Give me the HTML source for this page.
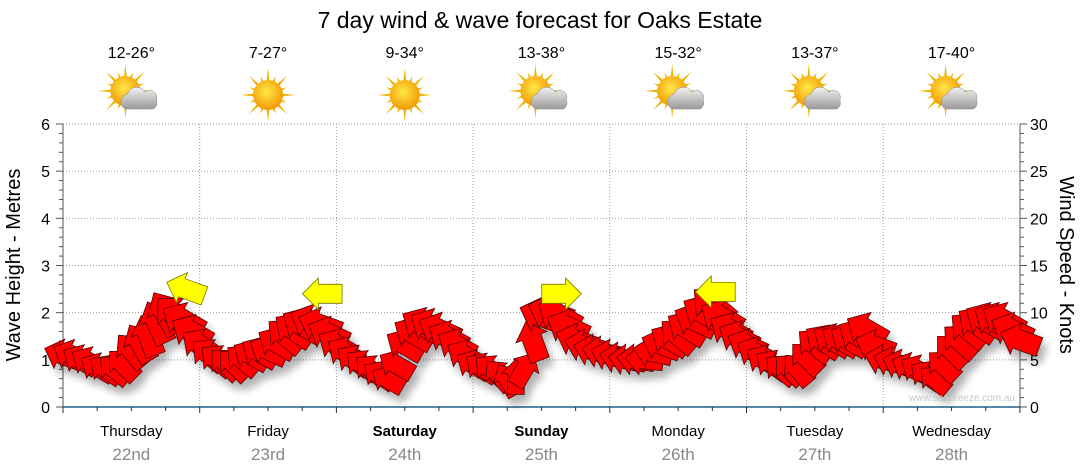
<!DOCTYPE html>
<html><head><meta charset="utf-8"><style>
body{margin:0;background:#fff;font-family:"Liberation Sans","DejaVu Sans",sans-serif}
svg{display:block}
</style></head><body>
<svg id="c" width="1080" height="475" viewBox="0 0 1080 475">
<defs>
<radialGradient id="sun" cx="45%" cy="40%" r="60%"><stop offset="0" stop-color="#ffe84a"/><stop offset="1" stop-color="#f29a00"/></radialGradient>
<linearGradient id="cloud" x1="0" y1="0" x2="0" y2="1"><stop offset="0" stop-color="#f2f2f2"/><stop offset="1" stop-color="#9a9a9a"/></linearGradient>
<filter id="sh" x="-20%" y="-20%" width="140%" height="160%"><feGaussianBlur stdDeviation="4"/></filter>
</defs>
<text x="540" y="28" text-anchor="middle" font-size="23" fill="#000">7 day wind &amp; wave forecast for Oaks Estate</text>
<g id="grid"></g><g id="icons"></g><g id="axes"></g><g id="shadow" filter="url(#sh)" opacity="0.3"></g><g id="marks"></g>
<text x="1015" y="401" text-anchor="end" font-size="10" fill="#c8c8c8">www.seabreeze.com.au</text>
<text transform="translate(20,265) rotate(-90)" text-anchor="middle" font-size="20">Wave Height - Metres</text>
<text transform="translate(1060,265) rotate(90)" text-anchor="middle" font-size="20">Wind Speed - Knots</text>
</svg>
<script>
const days=["Thursday","Friday","Saturday","Sunday","Monday","Tuesday","Wednesday"];
const dates=["22nd","23rd","24th","25th","26th","27th","28th"];
const temps=["12-26°","7-27°","9-34°","13-38°","15-32°","13-37°","17-40°"];
const cloudy=[1,0,0,1,1,1,1];
const waveTicks=[0,1,2,3,4,5,6];
const windTicks=[0,5,10,15,20,25,30];
// wind every 1.5 hours, knots
const windSpeed=[5.5,5.5,5,4.8,4.2,4,4,4.5,6,6.8,7.6,9,10,9.8,9.2,8,
6.6,5.6,5,4.6,4.5,5,5.5,5.8,6,6.8,7.6,8.2,8.7,9,8.7,7.8,
6.6,5.8,5,4.5,4,3.4,2.9,4.5,6.6,7.8,8.7,8.6,8.2,7.4,6.6,5.5,
4.5,4.2,4,3.4,2.9,3.2,4,7,9.7,10,9.7,8.5,7.1,6.5,6,5.8,
5.5,5.2,5,5,5,5.8,6.6,7.1,7.6,8.4,9.2,10,10.8,9.5,8.2,7.4,
6.6,5.8,5,4.5,4,4,4,5.2,6.6,7,7.1,7.1,7.1,7.6,8.2,6.5,
5,4.8,4.5,4.2,4,3.4,2.9,4.4,6,7,8.2,8.8,9.2,9.2,9.2,8.2,7.1];
const windDir=[-160,-155,-150,-150,-150,-145,-140,-135,-130,-120,-110,-115,-120,-135,-150,-150,
-145,-140,-140,-135,-135,-140,-150,-150,-155,-150,-140,-145,-150,-155,-160,-155,
-150,-148,-145,-142,-140,-145,-150,-150,-150,-150,-150,-152,-155,-152,-150,-150,
-150,-145,-140,-130,-120,-90,-60,-110,-160,-160,-150,-155,-160,-165,-165,-168,
-165,-168,-170,-172,-175,-168,-160,-150,-140,-148,-155,-150,-140,-150,-150,-152,
-155,-152,-150,-145,-140,-135,-130,-135,-140,-145,-150,-150,-150,-150,-150,-160,
-165,-162,-160,-155,-150,-145,-140,-137,-135,-138,-140,-145,-150,-150,-150,-155,-160];
const gustIdx=[14,30,58,76];
const gustSpeed=[12.5,12,12,12.2];
const gustDir=[-160,180,0,180];
const X0=63,X1=1020,DW=136.7,Y0=407,Y6=124;
const xT=i=>X0+i*DW/16;
const yW=m=>Y0-(Y0-Y6)*m/6;
const yK=k=>Y0-(Y0-Y6)*k/30;
const NS="http://www.w3.org/2000/svg";
function mk(p,t,a){const e=document.createElementNS(NS,t);for(const k in a)e.setAttribute(k,a[k]);p.appendChild(e);return e;}
const grid=document.getElementById('grid'),axes=document.getElementById('axes'),icons=document.getElementById('icons');
waveTicks.forEach(v=>{if(v>0){const l=mk(grid,'line',{x1:X0,x2:X1,y1:yW(v),y2:yW(v),stroke:'#999','stroke-dasharray':'1,2'});
}
const t=mk(axes,'text',{x:50,y:yW(v)+6,'text-anchor':'end','font-size':16});t.textContent=v;
});
windTicks.forEach(v=>{const t=mk(axes,'text',{x:1030,y:yK(v)+6,'font-size':16});t.textContent=v;
});
for(let i=0;i<=30;i++){const y=yW(i/5);const w=i%5==0?7:4;mk(axes,'line',{x1:X0-w,x2:X0,y1:y,y2:y,stroke:'#555'});mk(axes,'line',{x1:X1,x2:X1+w,y1:y,y2:y,stroke:'#555'});}
mk(axes,'line',{x1:X0,x2:X0,y1:Y6,y2:Y0,stroke:'#555'});mk(axes,'line',{x1:X1,x2:X1,y1:Y6,y2:Y0,stroke:'#555'});
mk(axes,'line',{x1:X0,x2:X1,y1:Y0,y2:Y0,stroke:'#1f5f8b','stroke-width':1.5});
for(let i=0;i<=28;i++){const x=X0+i*DW/4;mk(axes,'line',{x1:x,x2:x,y1:Y0,y2:Y0+(i%4==0?6:4),stroke:'#333'});}
days.forEach((d,i)=>{const cx=X0+(i+0.5)*DW;
if(i>0){const l=mk(grid,'line',{x1:X0+i*DW,x2:X0+i*DW,y1:Y6,y2:Y0,stroke:'#999','stroke-dasharray':'1,2'});}
const t=mk(axes,'text',{x:cx,y:436,'text-anchor':'middle','font-size':15,'font-weight':(i==2||i==3)?'bold':'normal'});t.textContent=d;

const t2=mk(axes,'text',{x:cx,y:460,'text-anchor':'middle','font-size':17,fill:'#888'});t2.textContent=dates[i];

const t3=mk(icons,'text',{x:cx,y:58,'text-anchor':'middle','font-size':16});t3.textContent=temps[i];

const g=mk(icons,'g',{transform:`translate(${cx},95)`});

const sx=cloudy[i]?-6:0,sy=cloudy[i]?-4:0;
for(let k=0;k<16;k++){const a=k*Math.PI/8,r=k%2?20:27;mk(g,'polygon',{points:`${sx+Math.cos(a-0.12)*13},${sy+Math.sin(a-0.12)*13} ${sx+Math.cos(a)*r},${sy+Math.sin(a)*r} ${sx+Math.cos(a+0.12)*13},${sy+Math.sin(a+0.12)*13}`,fill:'#f0b400'});}
mk(g,'circle',{cx:sx,cy:sy,r:15,fill:'url(#sun)'});
if(cloudy[i]){mk(g,'path',{d:'M-6,14 a8,8 0 0 1 2,-15 a10,10 0 0 1 18,-2 a7,7 0 0 1 11,8 a7,7 0 0 1 -3,9 z',fill:'url(#cloud)',stroke:'#888','stroke-width':0.5});}
});
const sh=document.getElementById('shadow'),marks=document.getElementById('marks');
function arrow(p,x,y,k,ang,fill,stroke){const L=30+k*1.6,W=L*0.24,H=L*0.4,HW=L*0.4;
const pts=[[L/2,0],[L/2-H,-HW],[L/2-H,-W],[-L/2,-W],[-L/2,W],[L/2-H,W],[L/2-H,HW]].map(q=>q.join(',')).join(' ');
return mk(p,'polygon',{points:pts,transform:`translate(${x},${y}) rotate(${ang})`,fill,stroke,'stroke-width':0.8});}
let pd='';windSpeed.forEach((k,i)=>{pd+=(i?'L':'M')+xT(i)+','+yK(k);});
const ln=mk(marks,'path',{d:pd,fill:'none',stroke:'#888','stroke-width':1});
windSpeed.forEach((k,i)=>{arrow(sh,xT(i)+5,yK(k)+8,k,windDir[i],'#000','none');});
windSpeed.forEach((k,i)=>{const a=arrow(marks,xT(i),yK(k),k,windDir[i],'#ff0000','#500');
});
gustIdx.forEach((j,n)=>{const a=arrow(marks,xT(j)+3,yK(gustSpeed[n]),gustSpeed[n]*0.5,gustDir[n],'#ffff00','#777700');
});
</script>
</body></html>
